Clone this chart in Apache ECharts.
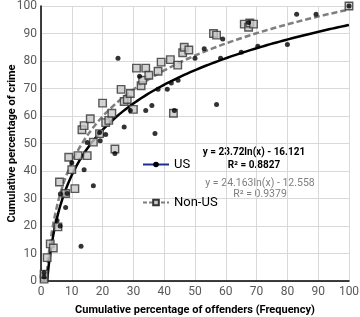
<!DOCTYPE html>
<html>
<head>
<meta charset="utf-8">
<script src="https://cdn.jsdelivr.net/npm/echarts@6/dist/echarts.min.js"></script>
<style>
  html, body { margin: 0; padding: 0; background: #fff; }
  #chart { width: 360px; height: 317px; }
</style>
</head>
<body>
<div id="chart"></div>
<script>
// values: [offenders %, crime %]
const usPoints = [
  [1, 1.5], [1, 3], [5.2, 22], [6.2, 20], [6.3, 31.6], [8, 26.7], [8.5, 31.8],
  [10, 43], [13, 12.6], [14, 40.5], [15, 50.4], [17, 34.6], [19, 54], [19.2, 51],
  [21, 53.3], [24, 46.4], [25, 81], [27, 56], [29, 62], [32, 74.5], [34, 62],
  [36, 63.8], [37, 53.6], [38, 69.7], [41, 69.7], [42.3, 72], [43.3, 62], [44.5, 73],
  [50, 81], [53, 84.5], [57, 64.2], [58.3, 81], [59, 88], [65, 83.2], [67.4, 94],
  [70.4, 85.4], [80, 86], [83, 97], [89.3, 97], [100, 100]
]
const nonUsPoints = [
  [1, 0.7], [1, 2.5], [2, 8.5], [3, 13.5], [4, 12], [5.5, 19.7], [6, 36], [8, 31.8],
  [9, 45], [10, 40.5], [11, 33.6], [12, 45.6], [13.3, 55], [14, 56.5], [15, 45.6],
  [16, 59], [17, 50.5], [19, 53.6], [20, 64.7], [21, 57.6], [22, 58.4], [23, 61],
  [24, 48], [26, 69.7], [27, 65.3], [28, 66], [29, 68.2], [30, 62.4], [31, 77.4],
  [32.5, 71], [33, 73], [34, 77.4], [35, 74.8], [38, 76.3], [39, 79.6], [42, 80.5],
  [43, 61], [44.4, 78.5], [46, 83], [46.5, 85], [48, 84], [56, 90], [57, 89.4],
  [66, 93.4], [67.4, 92.3], [67.8, 93.8], [69, 93.4], [100, 100]
]
// trendline equations printed on the chart
const usFit = { a: 23.72, b: -16.121, r2: '0.8827' }
const nonUsFit = { a: 24.163, b: -12.558, r2: '0.9379' }
const axisTicks = [0, 10, 20, 30, 40, 50, 60, 70, 80, 90, 100]

function trendLine(fit) {
  const start = Math.exp(-fit.b / fit.a)
  const pts = []
  for (let x = start; x < 100; x += 0.5) {
    pts.push([x, fit.a * Math.log(x) + fit.b])
  }
  pts.push([100, fit.a * Math.log(100) + fit.b])
  return pts
}

const font = "'Liberation Sans Narrow', 'Roboto', sans-serif"
const chart = echarts.init(document.getElementById('chart'))

const axisCommon = {
  type: 'value',
  min: axisTicks[0],
  max: axisTicks[axisTicks.length - 1],
  interval: 10,
  axisLine: { show: true, lineStyle: { color: '#000', width: 1.5 } },
  axisTick: { show: false },
  splitLine: { show: true, lineStyle: { color: '#d9d9d9', width: 1 } },
  axisLabel: { color: '#595959', fontSize: 12, fontFamily: font },
  nameLocation: 'middle',
  nameMoveOverlap: false,
  nameTextStyle: { color: '#000', fontSize: 11, fontWeight: 'bold', fontFamily: font },
}

const option = {
  animation: false,
  grid: { left: 41, right: 11, top: 6, bottom: 36, outerBoundsMode: 'none', containLabel: false },
  xAxis: {
    ...axisCommon,
    name: 'Cumulative percentage of offenders (Frequency)',
    nameGap: 24,
    axisLabel: { ...axisCommon.axisLabel, margin: 5 },
  },
  yAxis: {
    ...axisCommon,
    name: 'Cumulative percentage of crime',
    nameGap: 23,
    axisLabel: { ...axisCommon.axisLabel, margin: 4 },
  },
  legend: {
    orient: 'vertical',
    left: 137,
    top: 153,
    itemWidth: 26,
    itemHeight: 7,
    itemGap: 25,
    textStyle: { color: '#000', fontSize: 13, fontFamily: font },
    data: ['US', 'Non-US'],
  },
  graphic: [
    {
      type: 'text', x: 254, y: 146, style: {
        text: 'y = ' + usFit.a + 'ln(x) - ' + (-usFit.b) + '\nR² = ' + usFit.r2,
        fill: '#000', font: 'bold 10px ' + font, align: 'center', verticalAlign: 'top', lineHeight: 13,
      },
    },
    {
      type: 'text', x: 260, y: 178, style: {
        text: 'y = ' + nonUsFit.a + 'ln(x) - ' + (-nonUsFit.b) + '\nR² = ' + nonUsFit.r2,
        fill: '#7f7f7f', font: '10.5px ' + font, align: 'center', verticalAlign: 'top', lineHeight: 11,
      },
    },
  ],
  series: [
    {
      name: 'Non-US fit',
      type: 'line',
      data: trendLine(nonUsFit),
      showSymbol: false,
      lineStyle: { color: '#7f7f7f', width: 2.5, type: [6, 3] },
      z: 3,
    },
    {
      name: 'US fit',
      type: 'line',
      data: trendLine(usFit),
      showSymbol: false,
      lineStyle: { color: '#000', width: 2.5 },
      z: 3,
    },
    {
      name: 'Non-US pts',
      type: 'scatter',
      data: nonUsPoints,
      symbol: 'rect',
      symbolSize: 7.5,
      itemStyle: { color: '#c8c8c8', borderColor: '#333', borderWidth: 1.4 },
      z: 4,
    },
    {
      name: 'US pts',
      type: 'scatter',
      data: usPoints,
      symbol: 'circle',
      symbolSize: 5,
      itemStyle: { color: '#000' },
      z: 5,
    },
    // legend-only entries
    {
      name: 'US',
      type: 'line',
      data: [],
      symbol: 'circle',
      symbolSize: 5,
      itemStyle: { color: '#000' },
      lineStyle: { color: '#1f2f8f', width: 2.5 },
    },
    {
      name: 'Non-US',
      type: 'line',
      data: [],
      symbol: 'rect',
      symbolSize: 7,
      itemStyle: { color: '#c8c8c8', borderColor: '#333', borderWidth: 1.4 },
      lineStyle: { color: '#7f7f7f', width: 2, type: [4, 2] },
    },
  ],
}
chart.setOption(option)
</script>
</body>
</html>
